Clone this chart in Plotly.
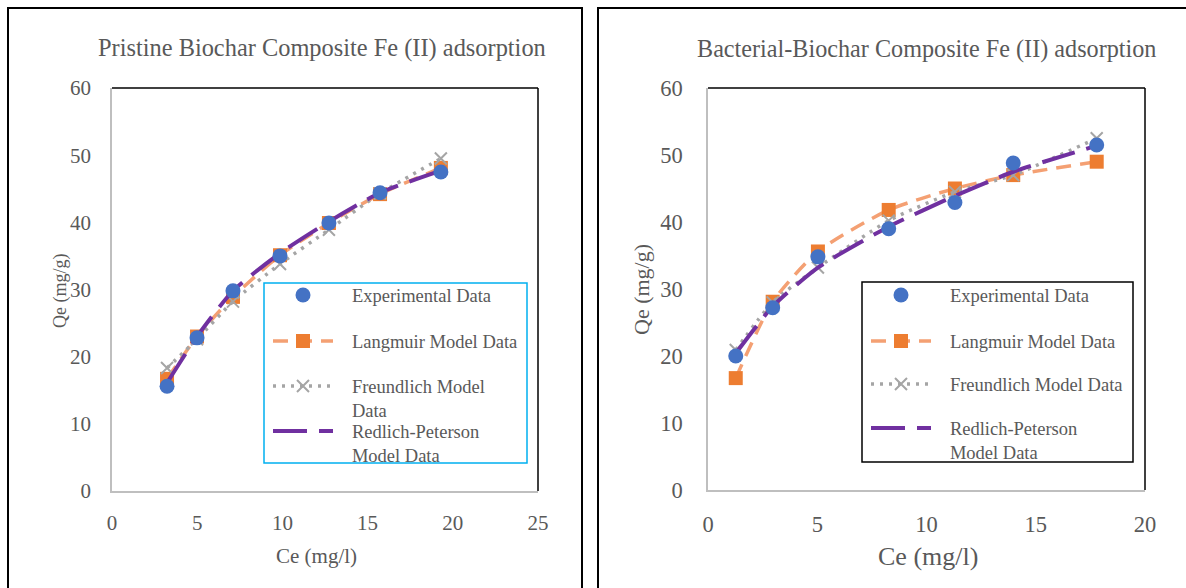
import plotly.graph_objects as go

W, H = 1186, 588

# ---- Pristine biochar composite (left panel) ----
ce_pristine = [3.23, 4.99, 7.10, 9.86, 12.73, 15.73, 19.30]
qe_exp_pristine = [15.6, 22.8, 29.8, 35.0, 39.9, 44.4, 47.5]
qe_langmuir_pristine = [16.7, 23.0, 28.9, 35.1, 39.9, 44.2, 48.1]
qe_freundlich_pristine = [18.3, 22.6, 28.2, 33.8, 38.9, 44.3, 49.5]
qe_rp_pristine = [16.1, 23.0, 29.8, 35.4, 40.1, 44.4, 47.7]

# ---- Bacterial-biochar composite (right panel) ----
ce_bacterial = [1.27, 2.96, 5.03, 8.27, 11.30, 13.97, 17.79]
qe_exp_bacterial = [20.0, 27.2, 34.8, 39.0, 42.9, 48.8, 51.5]
qe_langmuir_bacterial = [16.7, 28.1, 35.6, 41.8, 45.0, 47.0, 49.0]
qe_freundlich_bacterial = [20.9, 28.0, 33.2, 40.2, 44.5, 47.0, 52.5]
qe_rp_bacterial = [20.4, 27.4, 33.2, 39.3, 43.9, 47.5, 51.4]

titles = ["Pristine Biochar Composite Fe (II) adsorption",
          "Bacterial-Biochar Composite Fe (II) adsorption"]
series_names_left = ["Experimental Data", "Langmuir Model Data",
                     "Freundlich Model<br>Data", "Redlich-Peterson<br>Model Data"]
series_names_right = ["Experimental Data", "Langmuir Model Data",
                      "Freundlich Model Data", "Redlich-Peterson<br>Model Data"]
x_title = "Ce (mg/l)"
y_title = "Qe (mg/g)"

FONT = "Liberation Serif, Times New Roman, serif"
GREY_TXT = "#595959"
BLUE = "#4472C4"
ORANGE = "#ED7D31"
ORANGE_LINE = "#F4A073"
GREY = "#A5A5A5"
PURPLE = "#7030A0"
PAD = "\u00a0\u00a0\u00a0"


def px_x(p):
    return p / W


def px_y(p):
    return (H - p) / H


def label(name):
    return PAD + name.replace("<br>", "<br>" + PAD)


fig = go.Figure()


def add_panel(xa, ya, ce, exp, lang, freu, rp, names, legends):
    common = dict(x=ce, xaxis=xa, yaxis=ya)
    fig.add_trace(go.Scatter(
        y=lang, name=label(names[1]), mode="lines+markers",
        line=dict(color=ORANGE_LINE, width=3.5, dash="15px,9px", shape="spline", smoothing=0.6),
        marker=dict(symbol="square", size=14, color=ORANGE),
        legend=legends[1], **common))
    fig.add_trace(go.Scatter(
        y=freu, name=label(names[2]), mode="lines+markers",
        line=dict(color=GREY, width=3.5, dash="3px,6px", shape="spline", smoothing=0.6),
        marker=dict(symbol="x-thin", size=12, color=GREY, line=dict(color=GREY, width=2)),
        legend=legends[2], **common))
    fig.add_trace(go.Scatter(
        y=rp, name=label(names[3]), mode="lines",
        line=dict(color=PURPLE, width=4, dash="34px,12px", shape="spline", smoothing=0.6),
        legend=legends[3], **common))
    fig.add_trace(go.Scatter(
        y=exp, name=label(names[0]), mode="markers",
        marker=dict(symbol="circle", size=15, color=BLUE),
        legend=legends[0], **common))


add_panel("x", "y", ce_pristine, qe_exp_pristine, qe_langmuir_pristine,
          qe_freundlich_pristine, qe_rp_pristine, series_names_left,
          ["legend", "legend2", "legend3", "legend4"])
add_panel("x2", "y2", ce_bacterial, qe_exp_bacterial, qe_langmuir_bacterial,
          qe_freundlich_bacterial, qe_rp_bacterial, series_names_right,
          ["legend5", "legend6", "legend7", "legend8"])

# plot-area geometry in pixels
L_X0, L_X1, L_Y0, L_Y1 = 112, 538, 491, 88
R_X0, R_X1, R_Y0, R_Y1 = 708, 1145, 490, 88


def axis_style(size, standoff, rng, dtick, domain, anchor):
    return dict(range=rng, dtick=dtick, domain=domain, anchor=anchor,
                showgrid=False, zeroline=False, showline=True,
                linecolor="#BFBFBF", linewidth=1.5, ticks="",
                automargin=False,
                ticklabelstandoff=standoff,
                tickfont=dict(family=FONT, size=size, color=GREY_TXT),
                fixedrange=True)


fig.update_layout(
    template="none",
    width=W, height=H, autosize=False,
    margin=dict(l=0, r=0, t=0, b=0, pad=0, autoexpand=False),
    paper_bgcolor="white", plot_bgcolor="white",
    showlegend=True,
    xaxis=axis_style(21, 12, [0, 25], 5, [px_x(L_X0), px_x(L_X1)], "y"),
    yaxis=axis_style(21, 15, [0, 60], 10, [px_y(L_Y0), px_y(L_Y1)], "x"),
    xaxis2=axis_style(22.5, 13, [0, 20], 5, [px_x(R_X0), px_x(R_X1)], "y2"),
    yaxis2=axis_style(22.5, 19, [0, 60], 10, [px_y(R_Y0), px_y(R_Y1)], "x2"),
)

# one legend box per entry so rows line up with the framed key
leg_font = dict(family=FONT, size=18.5, color=GREY_TXT)
left_rows = [295, 341, 386, 431]
right_rows = [295, 341, 384, 428]
legend_cfg = {}
for i, row in enumerate(left_rows):
    key = "legend" if i == 0 else f"legend{i + 1}"
    legend_cfg[key] = dict(x=px_x(268), y=px_y(row - 18.5), xanchor="left", yanchor="top",
                           bgcolor="rgba(0,0,0,0)", borderwidth=0, font=leg_font,
                           itemwidth=60, valign="top")
for i, row in enumerate(right_rows):
    key = f"legend{i + 5}"
    legend_cfg[key] = dict(x=px_x(866), y=px_y(row - 18.5), xanchor="left", yanchor="top",
                           bgcolor="rgba(0,0,0,0)", borderwidth=0, font=leg_font,
                           itemwidth=60, valign="top")
fig.update_layout(**legend_cfg)

shapes = [
    # outer chart frames
    dict(type="rect", xref="paper", yref="paper", x0=px_x(8), x1=px_x(582),
         y0=-0.05, y1=px_y(8), line=dict(color="black", width=2)),
    dict(type="rect", xref="paper", yref="paper", x0=px_x(598), x1=1.05,
         y0=-0.05, y1=px_y(8), line=dict(color="black", width=2)),
    # legend frames
    dict(type="rect", xref="paper", yref="paper", x0=px_x(264), x1=px_x(527),
         y0=px_y(463), y1=px_y(283), line=dict(color="#00B0F0", width=1.5)),
    dict(type="rect", xref="paper", yref="paper", x0=px_x(862), x1=px_x(1133),
         y0=px_y(462), y1=px_y(282), line=dict(color="black", width=1.5)),
]
# top and right edges of each plot area
for xd, yd in [("x domain", "y domain"), ("x2 domain", "y2 domain")]:
    shapes.append(dict(type="line", xref=xd, yref=yd, x0=0, x1=1, y0=1, y1=1,
                       line=dict(color="black", width=1.5)))
    shapes.append(dict(type="line", xref=xd, yref=yd, x0=1, x1=1, y0=0, y1=1,
                       line=dict(color="black", width=1.5)))
fig.update_layout(shapes=shapes)


def text_ann(text, x, y, size, angle=0):
    return dict(text=text, x=px_x(x), y=px_y(y), xref="paper", yref="paper",
                xanchor="center", yanchor="middle", showarrow=False, textangle=angle,
                font=dict(family=FONT, size=size, color=GREY_TXT))


fig.update_layout(annotations=[
    text_ann(titles[0], 322, 48, 24.4),
    text_ann(titles[1], 927, 49, 24.2),
    text_ann(y_title, 60, 291, 18, -90),
    text_ann(y_title, 641, 290, 22, -90),
    text_ann(x_title, 317, 556, 21),
    text_ann(x_title, 928, 556, 26),
])

fig.write_html("out.html")
